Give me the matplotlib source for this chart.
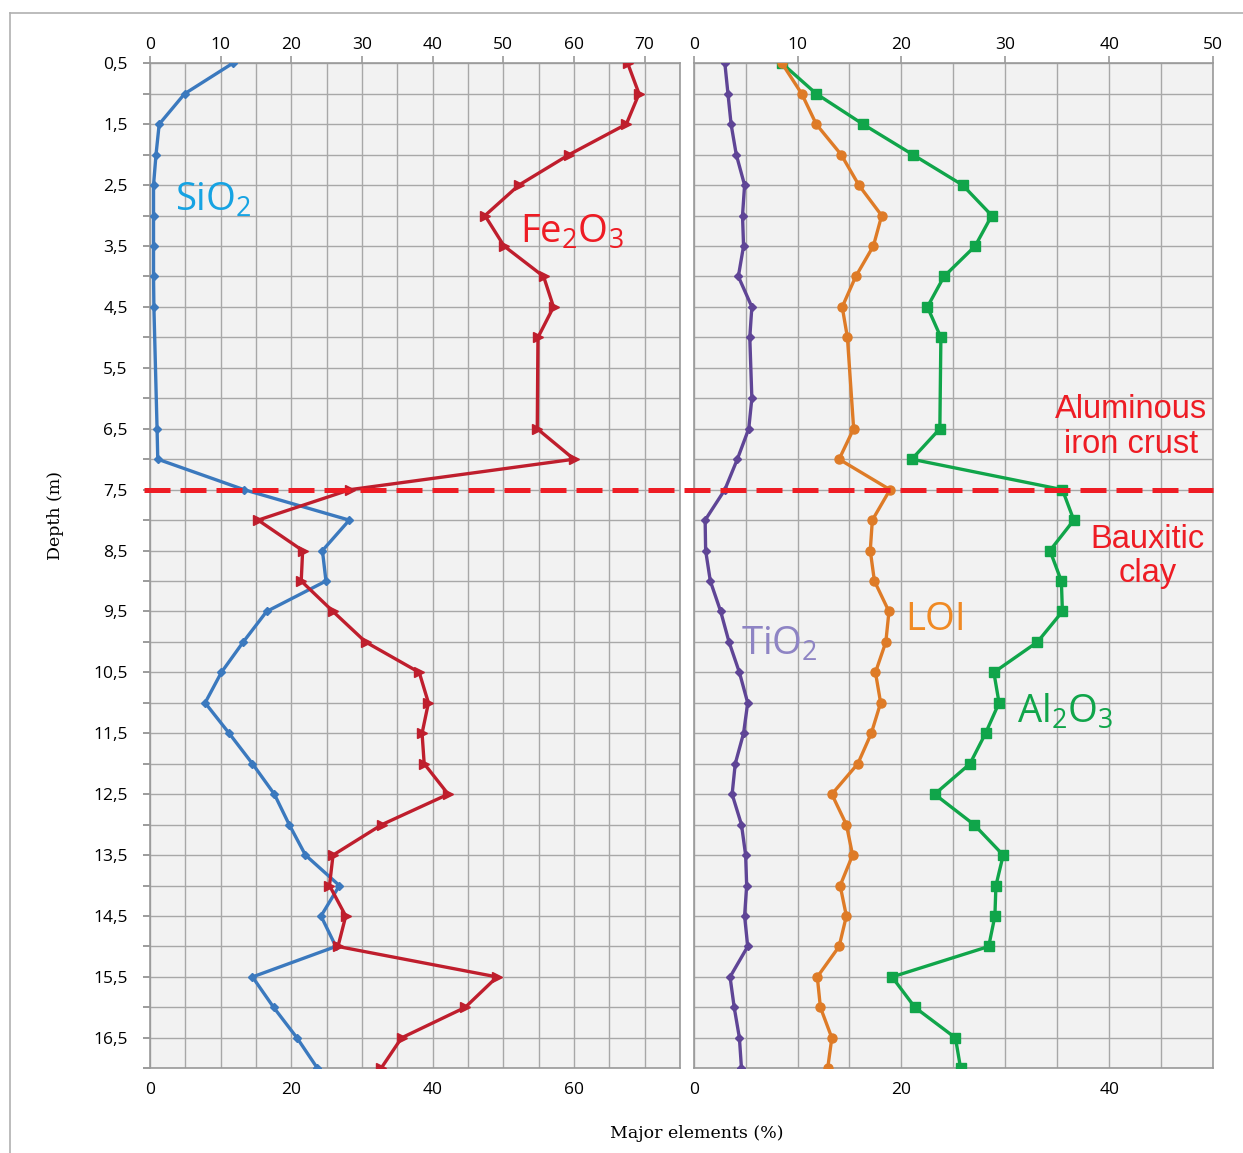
import matplotlib
matplotlib.use('Agg')
import matplotlib.pyplot as plt
from matplotlib.lines import Line2D
from matplotlib.transforms import blended_transform_factory
from matplotlib.ticker import MultipleLocator, FixedLocator, FuncFormatter

# ---------------- data ----------------
depth = [0.5 + 0.5 * i for i in range(34)]   # m, 0.5 ... 17.0

sio2 = [11.7, 4.9, 1.3, 0.85, 0.5, 0.5, 0.5, 0.5, 0.55, None, None, None, 1.0, 1.1,
        13.3, 28.2, 24.4, 24.9, 16.5, 13.2, 10.1, 7.8, 11.2, 14.5, 17.6, 19.7, 22.0,
        26.8, 24.2, 26.3, 14.5, 17.5, 20.8, 23.7]
fe2o3 = [67.6, 69.2, 67.4, 59.3, 52.2, 47.4, 50.1, 55.7, 57.1, 54.9, None, None, 54.8, 60.0,
         28.3, 15.3, 21.6, 21.4, 25.9, 30.5, 38.1, 39.4, 38.5, 38.8, 42.2, 32.8, 25.9,
         25.4, 27.7, 26.6, 49.1, 44.6, 35.6, 32.7]
tio2 = [3.0, 3.3, 3.6, 4.1, 4.9, 4.7, 4.8, 4.3, 5.6, 5.4, None, 5.6, 5.3, 4.2,
        3.0, 1.1, 1.15, 1.6, 2.6, 3.4, 4.4, 5.2, 4.8, 4.0, 3.7, 4.6, 5.0,
        5.1, 4.9, 5.2, 3.5, 3.9, 4.4, 4.6]
loi = [8.5, 10.4, 11.8, 14.2, 15.9, 18.1, 17.3, 15.6, 14.3, 14.8, None, None, 15.4, 14.0,
       18.9, 17.2, 17.0, 17.4, 18.8, 18.5, 17.5, 18.0, 17.1, 15.8, 13.3, 14.7, 15.3,
       14.1, 14.7, 14.0, 11.9, 12.2, 13.3, 12.9]
al2o3 = [8.5, 11.8, 16.3, 21.1, 25.9, 28.7, 27.1, 24.1, 22.5, 23.8, None, None, 23.7, 21.0,
         35.5, 36.6, 34.3, 35.4, 35.5, 33.1, 28.9, 29.4, 28.1, 26.6, 23.2, 27.0, 29.8,
         29.1, 29.0, 28.4, 19.1, 21.3, 25.2, 25.7]

boundary_depth = 7.5
left_top_ticks = [0, 10, 20, 30, 40, 50, 60, 70]
left_bottom_ticks = [0, 20, 40, 60]
right_top_ticks = [0, 10, 20, 30, 40, 50]
right_bottom_ticks = [0, 20, 40]
depth_ticks = [0.5 + i for i in range(17)]

# ---------------- style ----------------
plt.rcParams['font.family'] = ['Open Sans', 'DejaVu Sans']
plt.rcParams['mathtext.default'] = 'regular'

W, H = 1243, 1153
fig = plt.figure(figsize=(W / 100, H / 100), dpi=100)

def px_rect(x0, x1, y0, y1):
    return [x0 / W, 1 - y1 / H, (x1 - x0) / W, (y1 - y0) / H]

ax1 = fig.add_axes(px_rect(150, 680, 63.3, 1068.3))
ax2 = fig.add_axes(px_rect(693.7, 1213, 63.3, 1068.3))

GRID = '#a8a8a8'
BG = '#f2f2f2'
SPINE = '#9a9a9a'
TICKFS = 12.5

def style_axis(ax, xmax, top_ticks, bottom_ticks, show_y):
    ax.set_facecolor(BG)
    ax.set_xlim(0, xmax)
    ax.set_ylim(17.0, 0.5)
    ax.xaxis.set_major_locator(FixedLocator(top_ticks))
    ax.xaxis.set_minor_locator(MultipleLocator(5))
    ax.xaxis.tick_top()
    ax.tick_params(axis='x', which='major', top=True, bottom=False, labeltop=True,
                   labelbottom=False, length=5, width=1.2, color=SPINE, pad=2.5,
                   labelsize=TICKFS)
    ax.tick_params(axis='x', which='minor', top=False, bottom=False)
    ax.yaxis.set_major_locator(FixedLocator(depth_ticks))
    ax.yaxis.set_minor_locator(MultipleLocator(0.5))
    if show_y:
        ax.yaxis.set_major_formatter(FuncFormatter(lambda v, p: f'{v:.1f}'.replace('.', ',')))
        ax.tick_params(axis='y', which='both', left=True, length=5, width=1.2,
                       color='#8a8a8a', pad=11, labelsize=TICKFS)
    else:
        ax.tick_params(axis='y', which='both', left=False, right=False, labelleft=False)
    ax.grid(True, which='both', color=GRID, linewidth=1.0)
    ax.set_axisbelow(True)
    for s in ax.spines.values():
        s.set_color(SPINE)
        s.set_linewidth(1.2)
    sec = ax.secondary_xaxis('bottom')
    sec.set_xticks(bottom_ticks)
    sec.tick_params(length=0, pad=10, labelsize=TICKFS)
    sec.spines['bottom'].set_visible(False)

style_axis(ax1, 75, left_top_ticks, left_bottom_ticks, True)
style_axis(ax2, 50, right_top_ticks, right_bottom_ticks, False)

def plot_series(ax, vals, color, marker, ms):
    xs = [v for v in vals if v is not None]
    ys = [d for d, v in zip(depth, vals) if v is not None]
    ax.plot(xs, ys, color=color, lw=2.4, marker=marker, ms=ms,
            markeredgecolor=color, markerfacecolor=color, zorder=3)

plot_series(ax1, sio2, '#3b79be', 'D', 4.5)
plot_series(ax1, fe2o3, '#bf1e2d', '>', 6.5)
plot_series(ax2, tio2, '#5f4596', 'D', 4.5)
plot_series(ax2, al2o3, '#10a54a', 's', 6.5)
plot_series(ax2, loi, '#de7b27', 'o', 6.5)

# ---------------- labels ----------------
LBL = 27.5
ax1.text(3.6, 2.75, r'SiO$_2$', color='#16a3e3', fontsize=LBL, va='center', ha='left', zorder=5)
ax1.text(52.3, 3.28, r'Fe$_2$O$_3$', color='#ee1c24', fontsize=LBL, va='center', ha='left', zorder=5)
ax2.text(4.6, 10.05, r'TiO$_2$', color='#8e84c4', fontsize=LBL, va='center', ha='left', zorder=5)
ax2.text(20.4, 9.64, 'LOI', color='#f08a24', fontsize=LBL, va='center', ha='left', zorder=5)
ax2.text(31.1, 11.15, r'Al$_2$O$_3$', color='#10a54a', fontsize=LBL, va='center', ha='left', zorder=5)

ax2.text(42.1, 6.47, 'Aluminous\niron crust', color='#ee1c24', fontsize=23.5,
         family='Liberation Sans', ha='center', va='center', linespacing=1.15, zorder=5)
ax2.text(43.7, 8.6, 'Bauxitic\nclay', color='#ee1c24', fontsize=23.5,
         family='Liberation Sans', ha='center', va='center', linespacing=1.15, zorder=5)

# boundary dashed line across both panels
tr = blended_transform_factory(fig.transFigure, ax1.transData)
fig.add_artist(Line2D([144 / W, 1213 / W], [boundary_depth, boundary_depth], transform=tr,
                      color='#ee1c24', lw=3.6, dashes=(5.2, 2.0), zorder=10))

fig.text(56 / W, 1 - 515 / H, 'Depth (m)', rotation=90, ha='center', va='center',
         fontsize=12.5, family='DejaVu Serif')
fig.text(697 / W, 1 - 1134 / H, 'Major elements (%)', ha='center', va='center',
         fontsize=12.5, family='DejaVu Serif')

# figure frame (top and left border)
fig.add_artist(Line2D([10 / W, 1.0], [1 - 12.7 / H, 1 - 12.7 / H], transform=fig.transFigure,
                      color='#b0b0b0', lw=1.2))
fig.add_artist(Line2D([10 / W, 10 / W], [0, 1 - 12.7 / H], transform=fig.transFigure,
                      color='#b0b0b0', lw=1.2))

fig.savefig('out.png', dpi=100)
